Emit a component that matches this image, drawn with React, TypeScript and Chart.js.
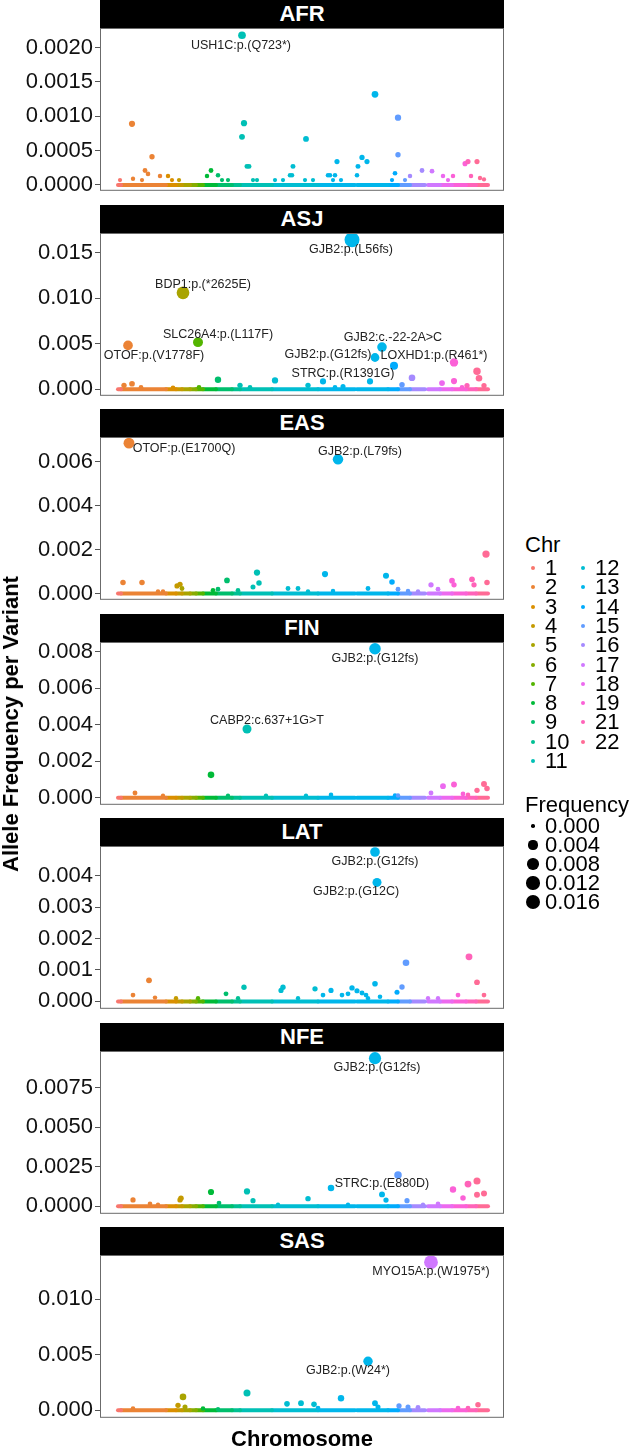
import React, { useEffect, useRef } from "react";
import { Chart, registerables } from "chart.js";
Chart.register(...registerables);

const FONT = "'Liberation Sans', Arial, Helvetica, sans-serif";

// ---------- data ----------
const POPS = ["AFR", "ASJ", "EAS", "FIN", "LAT", "NFE", "SAS"];
const CHRS = ["1","2","3","4","5","6","7","8","9","10","11","12","13","14","15","16","17","18","19","21","22"];

// chromosome spans along the variant index axis
const SEG_CHR = ["1","2","3","4","5","6","7","8","9","10","11","12","13","13","14","15","16","17","18","19","21","22"];
const SEG_START = [0, 3, 48, 58, 64, 72, 78, 85, 98, 114, 122, 154, 200, 239, 270, 280, 292, 310, 322, 334, 348, 358];
const SEG_END = [3, 48, 58, 64, 72, 78, 85, 98, 114, 122, 154, 200, 237, 270, 280, 292, 307, 322, 334, 348, 358, 370];

const AFR_POS = [124, 14, 34, 27, 30, 15, 42, 50, 54, 61, 2, 24, 93, 89, 100, 110, 104, 126, 124, 129, 131, 135, 139, 188, 175, 174, 157, 165, 187, 195, 219, 210, 215, 223, 212, 217, 172, 257, 244, 249, 240, 239, 280, 280, 277, 274, 287, 292, 304, 314, 325, 330, 335, 347, 350, 359, 353, 362, 366];
const AFR_AF = [0.00218, 0.00089, 0.00041, 0.00021, 0.00016, 0.00009, 0.00013, 0.00013, 0.00007, 0.00007, 0.00007, 0.00007, 0.00021, 0.00013, 0.00014, 0.00007, 0.00007, 0.0009, 0.0007, 0.00027, 0.00027, 0.00007, 0.00007, 0.00067, 0.00027, 0.00014, 0.00007, 0.00007, 0.00007, 0.00007, 0.00034, 0.00014, 0.00007, 0.00007, 0.00014, 0.00014, 0.00014, 0.00132, 0.0004, 0.00034, 0.00027, 0.00014, 0.00098, 0.00044, 0.00017, 0.00007, 0.00007, 0.00013, 0.00021, 0.0002, 0.00013, 0.00007, 0.00013, 0.00031, 0.00034, 0.00034, 0.00013, 0.0001, 0.00008];

const ASJ_POS = [234, 65, 10, 80, 264, 257, 276, 336, 359, 361, 294, 336, 324, 100, 157, 205, 252, 284, 122, 132, 190, 14, 6, 349, 344, 366, 81, 55, 23, 217, 225];
const ASJ_AF = [0.01644, 0.01061, 0.00482, 0.00518, 0.00464, 0.00349, 0.00259, 0.00295, 0.00198, 0.0012, 0.00126, 0.0009, 0.00068, 0.00104, 0.00097, 0.00086, 0.00086, 0.0005, 0.00043, 0.0002, 0.00043, 0.0006, 0.00043, 0.0004, 0.0002, 0.0004, 0.0002, 0.00015, 0.0002, 0.0002, 0.0003];

const EAS_POS = [11, 220, 5, 24, 59, 62, 64, 109, 139, 141, 135, 207, 268, 274, 280, 313, 334, 336, 354, 356, 368, 369, 170, 180, 250, 100, 95, 120, 45, 40, 190, 215, 290, 300, 320];
const EAS_AF = [0.00686, 0.00612, 0.0005, 0.0005, 0.00035, 0.00042, 0.00023, 0.0006, 0.00096, 0.00048, 0.0003, 0.00089, 0.00081, 0.00053, 0.0002, 0.0004, 0.00059, 0.0004, 0.00065, 0.0004, 0.0018, 0.0005, 0.00023, 0.00023, 0.00023, 0.0002, 0.00015, 0.00015, 0.0001, 0.0001, 0.0001, 0.00012, 0.00012, 0.0001, 0.0002];

const FIN_POS = [257, 129, 93, 325, 336, 313, 359, 17, 366, 369, 188, 213, 148, 110, 45, 277, 280, 345, 350];
const FIN_AF = [0.00815, 0.00376, 0.00125, 0.00063, 0.00072, 0.00025, 0.0004, 0.00025, 0.00075, 0.0005, 0.0001, 0.00015, 0.0001, 0.0001, 0.0001, 0.00012, 0.00012, 0.0002, 0.00015];

const LAT_POS = [257, 259, 288, 351, 359, 31, 126, 165, 163, 197, 213, 234, 239, 244, 257, 284, 279, 15, 108, 224, 230, 248, 262, 340, 310, 320, 37, 58, 80, 120, 180, 205, 250, 366];
const LAT_AF = [0.00476, 0.00379, 0.00123, 0.00142, 0.00061, 0.00067, 0.00045, 0.00045, 0.00035, 0.0004, 0.00035, 0.00043, 0.00034, 0.00027, 0.00056, 0.00046, 0.00029, 0.0002, 0.00024, 0.0002, 0.00024, 0.0002, 0.00015, 0.0002, 0.0001, 0.0001, 0.00012, 0.0001, 0.0001, 0.0001, 0.0001, 0.0002, 0.0001, 0.0002];

const NFE_POS = [257, 280, 213, 93, 129, 335, 350, 359, 345, 359, 264, 268, 190, 289, 15, 63, 62, 101, 135, 366, 32, 40, 160, 230, 320, 305];
const NFE_AF = [0.009375, 0.00198, 0.00115, 0.0009, 0.00094, 0.00106, 0.0014, 0.0016, 0.00052, 0.00073, 0.00075, 0.00039, 0.00048, 0.00035, 0.0004, 0.0005, 0.0004, 0.0002, 0.00035, 0.0008, 0.00015, 0.0001, 0.0001, 0.0001, 0.00015, 0.0001];

const SAS_POS = [313, 250, 129, 65, 60, 67, 223, 169, 183, 196, 257, 260, 281, 360, 15, 85, 100, 290, 300, 340, 350, 200];
const SAS_AF = [0.01332, 0.00441, 0.00156, 0.0012, 0.00044, 0.0003, 0.00108, 0.00058, 0.00063, 0.00053, 0.00063, 0.0003, 0.0004, 0.0005, 0.00015, 0.00015, 0.0001, 0.0003, 0.00025, 0.0002, 0.0002, 0.0002];

// variant labels: [text, index, frequency]
const AFR_LABELS = [["USH1C:p.(Q723*)", 123, 0.002033]];
const ASJ_LABELS = [
  ["GJB2:p.(L56fs)", 233, 0.01537],
  ["BDP1:p.(*2625E)", 85, 0.01148],
  ["SLC26A4:p.(L117F)", 100, 0.0060],
  ["OTOF:p.(V1778F)", 36, 0.003737],
  ["GJB2:c.-22-2A>C", 275, 0.00565],
  ["GJB2:p.(G12fs)", 210, 0.00383],
  ["LOXHD1:p.(R461*)", 316, 0.003737],
  ["STRC:p.(R1391G)", 225, 0.00168],
];
const EAS_LABELS = [["OTOF:p.(E1700Q)", 66, 0.00661], ["GJB2:p.(L79fs)", 242, 0.00646]];
const FIN_LABELS = [["GJB2:p.(G12fs)", 257, 0.00761], ["CABP2:c.637+1G>T", 149, 0.00421]];
const LAT_LABELS = [["GJB2:p.(G12fs)", 257, 0.00446], ["GJB2:p.(G12C)", 238, 0.0035]];
const NFE_LABELS = [["GJB2:p.(G12fs)", 259, 0.00879], ["STRC:p.(E880D)", 264, 0.00144]];
const SAS_LABELS = [["MYO15A:p.(W1975*)", 313, 0.01249], ["GJB2:p.(W24*)", 230, 0.00358]];

const AFR_TICKS = [0, 0.0005, 0.001, 0.0015, 0.002];
const ASJ_TICKS = [0, 0.005, 0.01, 0.015];
const EAS_TICKS = [0, 0.002, 0.004, 0.006];
const FIN_TICKS = [0, 0.002, 0.004, 0.006, 0.008];
const LAT_TICKS = [0, 0.001, 0.002, 0.003, 0.004];
const NFE_TICKS = [0, 0.0025, 0.005, 0.0075];
const SAS_TICKS = [0, 0.005, 0.01];
const TICK_DECIMALS = [4, 3, 3, 3, 3, 4, 3];
const Y_MIN = [-0.0000857, -0.000723, -0.000284, -0.000392, -0.000236, -0.00048, -0.00068];
const Y_MAX = [0.002286, 0.01719, 0.00714, 0.00852, 0.00495, 0.00983, 0.01397];

const SIZE_BREAKS = [0, 0.004, 0.008, 0.012, 0.016];
const SIZE_MAX = 0.0165;

const PANEL_DATA = [
  { pos: AFR_POS, af: AFR_AF, labels: AFR_LABELS, ticks: AFR_TICKS },
  { pos: ASJ_POS, af: ASJ_AF, labels: ASJ_LABELS, ticks: ASJ_TICKS },
  { pos: EAS_POS, af: EAS_AF, labels: EAS_LABELS, ticks: EAS_TICKS },
  { pos: FIN_POS, af: FIN_AF, labels: FIN_LABELS, ticks: FIN_TICKS },
  { pos: LAT_POS, af: LAT_AF, labels: LAT_LABELS, ticks: LAT_TICKS },
  { pos: NFE_POS, af: NFE_AF, labels: NFE_LABELS, ticks: NFE_TICKS },
  { pos: SAS_POS, af: SAS_AF, labels: SAS_LABELS, ticks: SAS_TICKS },
];

// ---------- style helpers ----------
function hcl2hex(h: number, c: number, l: number): string {
  const hr = (h * Math.PI) / 180;
  const U = c * Math.cos(hr), V = c * Math.sin(hr);
  const Xn = 95.047, Yn = 100, Zn = 108.883;
  const Y = l > 8 ? Yn * Math.pow((l + 16) / 116, 3) : (Yn * l) / 903.3;
  const den = Xn + 15 * Yn + 3 * Zn;
  const un = (4 * Xn) / den, vn = (9 * Yn) / den;
  const u = U / (13 * l) + un, v = V / (13 * l) + vn;
  const X = (9 * Y * u) / (4 * v);
  const Z = -X / 3 - 5 * Y + (3 * Y) / v;
  const x = X / 100, y = Y / 100, z = Z / 100;
  const lin = [
    3.240479 * x - 1.53715 * y - 0.498535 * z,
    -0.969256 * x + 1.875992 * y + 0.041556 * z,
    0.055648 * x - 0.204043 * y + 1.057311 * z,
  ];
  return (
    "#" +
    lin
      .map((t) => {
        let g = t <= 0.0031308 ? 12.92 * t : 1.055 * Math.pow(t, 1 / 2.4) - 0.055;
        g = Math.max(0, Math.min(1, g));
        return Math.round(g * 255).toString(16).padStart(2, "0");
      })
      .join("")
  );
}
const CHR_COLORS: Record<string, string> = {};
CHRS.forEach((c, i) => {
  CHR_COLORS[c] = hcl2hex(15 + (360 / CHRS.length) * i, 100, 65);
});
function chrAt(p: number): string {
  let best = SEG_CHR[0];
  for (let i = 0; i < SEG_START.length; i++) {
    if (p >= SEG_START[i]) best = SEG_CHR[i];
  }
  return best;
}
const diam = (v: number) => 3.5 + 11.5 * Math.sqrt(Math.max(v, 0) / SIZE_MAX);

const HEADER_H = 28;
const PLOT_H = 166;
const PERIOD = 204.5;
const PLOT_LEFT = 100;
const PLOT_RIGHT = 504;

const panelPlugin = {
  id: "varLabels",
  afterDatasetsDraw(chart: any, _args: any, opts: any) {
    const { ctx, scales } = chart;
    const xs = scales.x, ys = scales.y;
    ctx.save();
    ctx.font = `12.5px ${FONT}`;
    ctx.fillStyle = "#222";
    ctx.textAlign = "center";
    ctx.textBaseline = "middle";
    (opts.items || []).forEach((l: any) => {
      ctx.fillText(l[0], xs.getPixelForValue(l[1]), ys.getPixelForValue(l[2]));
    });
    ctx.restore();
  },
  afterDraw(chart: any) {
    const { ctx, chartArea: a } = chart;
    ctx.save();
    ctx.strokeStyle = "#6b6b6b";
    ctx.lineWidth = 1;
    ctx.strokeRect(a.left + 0.5, a.top + 0.5, a.right - a.left - 1, a.bottom - a.top - 1);
    ctx.restore();
  },
};

function Panel({ idx }: { idx: number }) {
  const ref = useRef<HTMLCanvasElement | null>(null);
  useEffect(() => {
    const d = PANEL_DATA[idx];
    const lineSets = SEG_CHR.map((c, i) => ({
      type: "line" as const,
      data: [
        { x: SEG_START[i], y: 0 },
        { x: SEG_END[i], y: 0 },
      ],
      borderColor: CHR_COLORS[c],
      borderWidth: 4,
      borderCapStyle: "round" as const,
      pointRadius: 0,
      order: 2,
    }));
    const pts = d.pos.map((p, i) => ({ x: p, y: d.af[i] }));
    const chart = new Chart(ref.current as HTMLCanvasElement, {
      type: "scatter",
      data: {
        datasets: [
          ...lineSets,
          {
            type: "scatter" as const,
            data: pts,
            pointBackgroundColor: d.pos.map((p) => CHR_COLORS[chrAt(p)]),
            pointRadius: d.af.map((v) => diam(v) / 2),
            pointBorderWidth: 0,
            order: 1,
            clip: false,
          },
        ] as any,
      },
      options: {
        animation: false,
        responsive: false,
        events: [],
        layout: { autoPadding: false, padding: { top: HEADER_H, bottom: 12, left: 0, right: 2 } },
        plugins: {
          legend: { display: false },
          tooltip: { enabled: false },
          varLabels: { items: d.labels },
        } as any,
        scales: {
          x: { type: "linear", min: -18, max: 386, display: false },
          y: {
            type: "linear",
            min: Y_MIN[idx],
            max: Y_MAX[idx],
            afterFit: (s: any) => {
              s.width = PLOT_LEFT;
            },
            afterBuildTicks: (s: any) => {
              s.ticks = d.ticks.map((v) => ({ value: v }));
            },
            ticks: {
              callback: (v: any) => Number(v).toFixed(TICK_DECIMALS[idx]),
              font: { size: 22, family: FONT },
              color: "#111",
              padding: 2,
            },
            grid: { drawOnChartArea: false, drawTicks: true, tickLength: 5, color: "#555", tickWidth: 1 },
            border: { display: false },
          },
        },
      } as any,
      plugins: [panelPlugin],
    });
    return () => chart.destroy();
  }, [idx]);
  const top = Math.round(idx * PERIOD);
  return (
    <>
      <canvas
        ref={ref}
        width={PLOT_RIGHT + 2}
        height={HEADER_H + PLOT_H + 12}
        style={{ position: "absolute", left: 0, top, width: PLOT_RIGHT + 2, height: HEADER_H + PLOT_H + 12 }}
      />
      <div
        style={{
          position: "absolute",
          left: PLOT_LEFT,
          top,
          width: PLOT_RIGHT - PLOT_LEFT,
          height: HEADER_H,
          background: "#000",
          color: "#fff",
          fontFamily: FONT,
          fontWeight: "bold",
          fontSize: 22,
          lineHeight: HEADER_H + "px",
          textAlign: "center",
        }}
      >
        {POPS[idx]}
      </div>
    </>
  );
}

const txt = (extra: React.CSSProperties): React.CSSProperties => ({
  position: "absolute",
  fontFamily: FONT,
  fontSize: 22,
  color: "#000",
  lineHeight: "22px",
  whiteSpace: "nowrap",
  transform: "translateY(-50%)",
  ...extra,
});

export default function App() {
  const colA = CHRS.slice(0, 11);
  const colB = CHRS.slice(11);
  return (
    <div style={{ position: "absolute", left: 0, top: 0, width: 630, height: 1448, background: "#fff", overflow: "hidden" }}>
      {POPS.map((_, i) => (
        <Panel key={i} idx={i} />
      ))}
      <div
        style={{
          position: "absolute",
          left: 11,
          top: 724,
          fontFamily: FONT,
          fontWeight: "bold",
          fontSize: 22,
          whiteSpace: "nowrap",
          transform: "translate(-50%, -50%) rotate(-90deg)",
        }}
      >
        Allele Frequency per Variant
      </div>
      <div style={txt({ left: 302, top: 1439, fontWeight: "bold", transform: "translate(-50%, -50%)" })}>Chromosome</div>

      <div style={txt({ left: 525, top: 545 })}>Chr</div>
      {[colA, colB].map((col, ci) =>
        col.map((c, r) => {
          const y = 568 + r * 19.3;
          const dx = ci === 0 ? 533 : 583;
          return (
            <React.Fragment key={c}>
              <div
                style={{
                  position: "absolute",
                  left: dx - 2,
                  top: y - 2,
                  width: 4,
                  height: 4,
                  borderRadius: "50%",
                  background: CHR_COLORS[c],
                }}
              />
              <div style={txt({ left: dx + 12, top: y })}>{c}</div>
            </React.Fragment>
          );
        })
      )}

      <div style={txt({ left: 525, top: 805 })}>Frequency</div>
      {SIZE_BREAKS.map((v, k) => {
        const y = 826 + k * 19;
        const dd = diam(v);
        return (
          <React.Fragment key={v}>
            <div
              style={{
                position: "absolute",
                left: 533 - dd / 2,
                top: y - dd / 2,
                width: dd,
                height: dd,
                borderRadius: "50%",
                background: "#000",
              }}
            />
            <div style={txt({ left: 545, top: y })}>{v.toFixed(3)}</div>
          </React.Fragment>
        );
      })}
    </div>
  );
}
